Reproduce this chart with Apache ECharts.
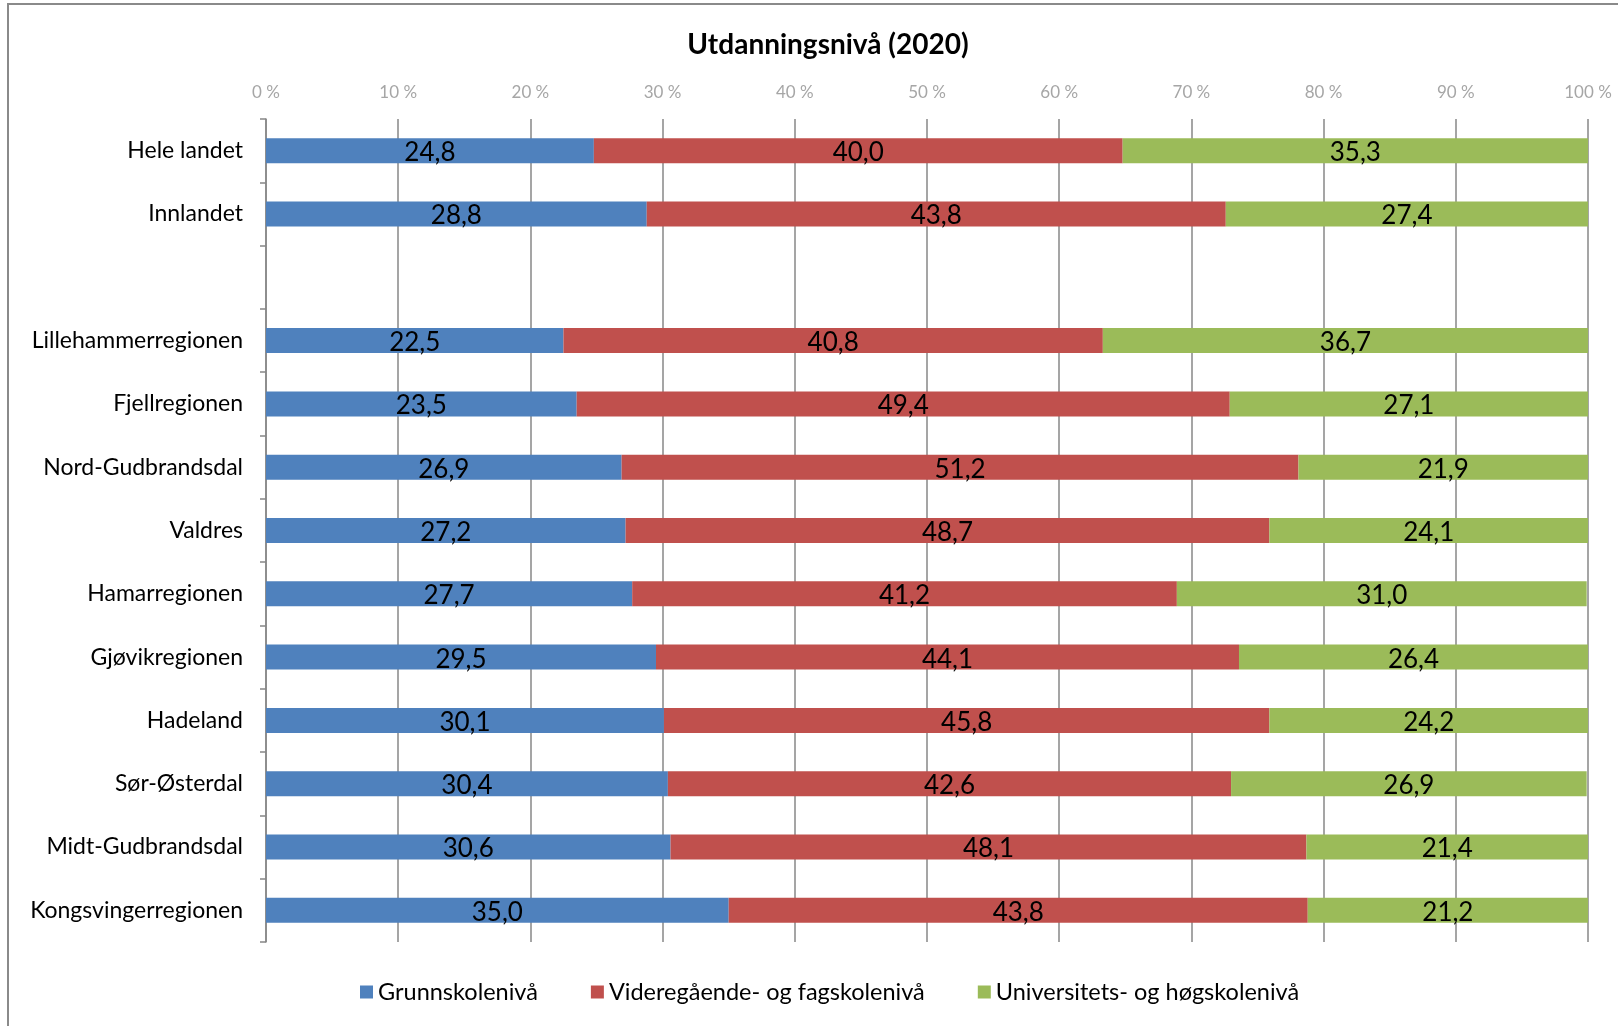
<!DOCTYPE html>
<html>
<head>
<meta charset="utf-8">
<script src="https://cdn.jsdelivr.net/npm/echarts@6/dist/echarts.min.js"></script>
<style>
html,body{margin:0;padding:0;background:#fff;}
#chart{width:1618px;height:1026px;}
</style>
</head>
<body>
<div id="chart"></div>
<script>
const categories = ['Hele landet','Innlandet','','Lillehammerregionen','Fjellregionen','Nord-Gudbrandsdal','Valdres','Hamarregionen','Gjøvikregionen','Hadeland','Sør-Østerdal','Midt-Gudbrandsdal','Kongsvingerregionen'];
const grunnskole = [24.8,28.8,null,22.5,23.5,26.9,27.2,27.7,29.5,30.1,30.4,30.6,35.0];
const videregaende = [40.0,43.8,null,40.8,49.4,51.2,48.7,41.2,44.1,45.8,42.6,48.1,43.8];
const universitet = [35.3,27.4,null,36.7,27.1,21.9,24.1,31.0,26.4,24.2,26.9,21.4,21.2];
const seriesNames = ['Grunnskolenivå','Videregående- og fagskolenivå','Universitets- og høgskolenivå'];
const colors = ['#4f81bd','#c0504d','#9bbb59'];
const FONT = 'Lato';

const chart = echarts.init(document.getElementById('chart'));
const fmt = p => (p.value == null ? '' : Number(p.value).toFixed(1).replace('.', ','));
function mk(name, data, color){
  return {
    name, type:'bar', stack:'total', data, barWidth:25,
    itemStyle:{color},
    label:{show:true, position:'inside', formatter:fmt, color:'#000', fontSize:26, fontFamily:FONT, offset:[0,2]},
    clip:true
  };
}
chart.setOption({
  animation:false,
  title:{text:'Utdanningsnivå (2020)', left:823, top:26, textAlign:'center',
    textStyle:{fontSize:28, fontWeight:'bold', color:'#000', fontFamily:FONT}},
  graphic:[{type:'rect', shape:{x:8, y:4, width:1700, height:1100},
    style:{fill:'none', stroke:'#8a8a8a', lineWidth:2}}],
  grid:{left:266, right:30, top:119, bottom:84},
  legend:{bottom:17, left:355, icon:'rect', itemWidth:13, itemHeight:13, itemGap:53,
    textStyle:{fontSize:23.5, color:'#000', fontFamily:FONT},
    data:seriesNames},
  xAxis:{type:'value', position:'top', min:0, max:100, interval:10,
    axisLine:{show:false}, axisTick:{show:false},
    axisLabel:{formatter:v => v + ' %', color:'#a6a6a6', fontSize:17, fontFamily:FONT, margin:18},
    splitLine:{show:true, lineStyle:{color:'#878787', width:1.5}}},
  yAxis:{type:'category', inverse:true, data:categories,
    axisLine:{show:true, lineStyle:{color:'#878787', width:1.5}},
    axisTick:{show:true, length:6, lineStyle:{color:'#878787', width:1.5}},
    axisLabel:{color:'#000', fontSize:23, fontFamily:FONT, margin:23}},
  series:[mk(seriesNames[0], grunnskole, colors[0]), mk(seriesNames[1], videregaende, colors[1]), mk(seriesNames[2], universitet, colors[2])]
});
</script>
</body>
</html>
